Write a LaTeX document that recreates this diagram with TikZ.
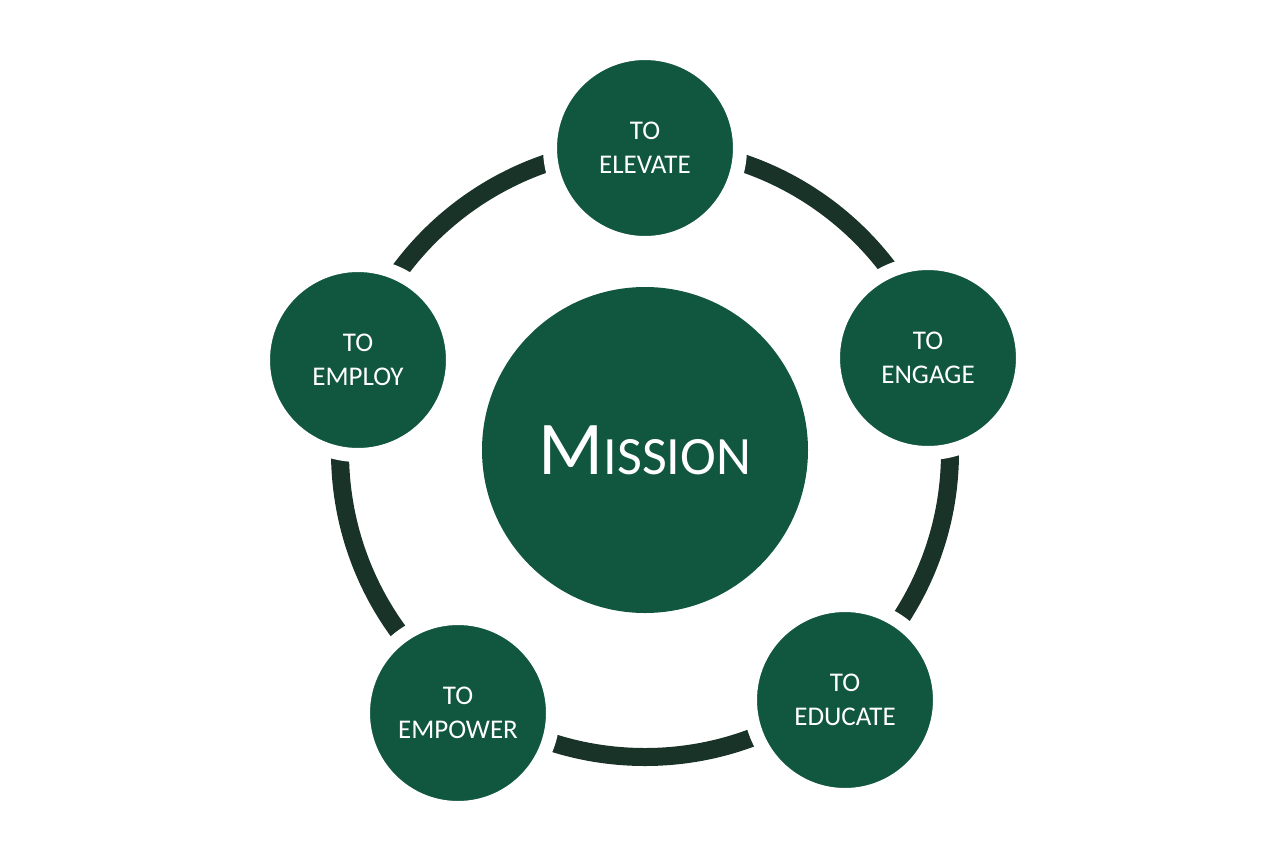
\documentclass[tikz,border=0pt]{standalone}
\usepackage{fontspec}
\setmainfont{Carlito}
\definecolor{cg}{HTML}{115740}
\definecolor{rg}{HTML}{1A3329}
\begin{document}
\begin{tikzpicture}[x=1pt,y=-1pt,
  small/.style={circle,fill=cg,draw=white,line width=14pt,minimum size=190pt,inner sep=0pt,text=white,align=center,font=\fontsize{27}{34}\selectfont}]
\useasboundingbox (0,0) rectangle (1288,860);
\draw[rg,line width=18pt] (645,452) circle (305);
\node[circle,fill=cg,minimum size=326pt,inner sep=0pt,text=white] (m) at (645,450)
  {\fontsize{76}{76}\selectfont M\fontsize{54}{54}\selectfont ISSION};
\node[small] (a) at (645,148) {TO\\ELEVATE};
\node[small] (b) at (928,358) {TO\\ENGAGE};
\node[small] (c) at (845,700) {TO\\EDUCATE};
\node[small] (d) at (458,713) {TO\\EMPOWER};
\node[small] (e) at (358,360) {TO\\EMPLOY};
\end{tikzpicture}
\end{document}
